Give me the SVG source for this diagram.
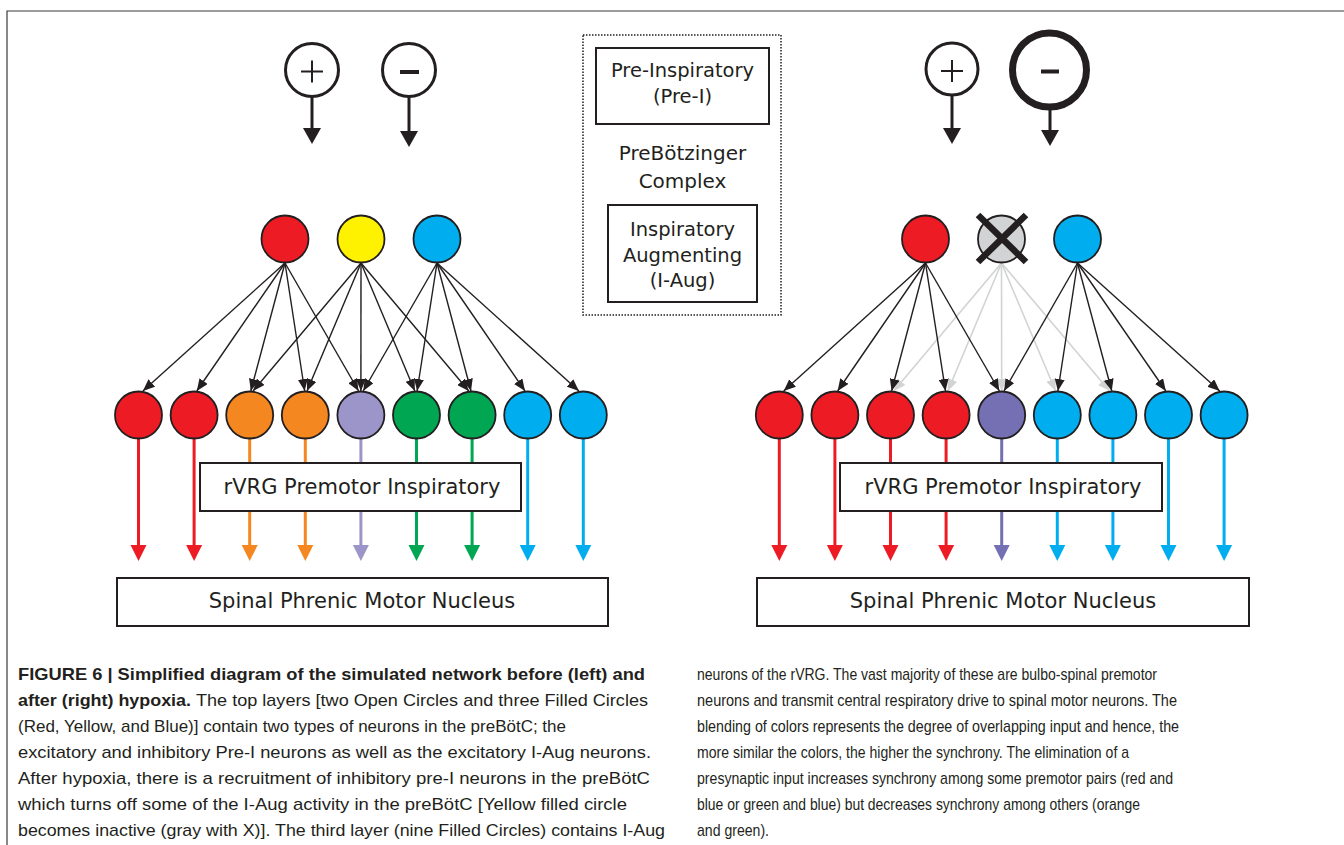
<svg xmlns="http://www.w3.org/2000/svg" width="1344" height="845" viewBox="0 0 1344 845">
<style>
  .nrn{stroke:#231f20;stroke-width:1.8}
  .red{fill:#ed1c24}.yel{fill:#fff200}.blu{fill:#00aeef}.org{fill:#f4871f}
  .pur{fill:#9b95c9}.grn{fill:#00a651}.pur2{fill:#7570b3}.gry{fill:#d1d3d4}
  .sred{stroke:#ed1c24}.sblu{stroke:#00aeef}.sorg{stroke:#f4871f}.spur{stroke:#9b95c9}.sgrn{stroke:#00a651}.spur2{stroke:#7570b3}
  .out{stroke-width:3;fill:none}
  .conn{stroke:#231f20;stroke-width:1.4;fill:none;marker-end:url(#ab)}
  .connG{stroke:#d1d3d4;stroke-width:1.6;fill:none;marker-end:url(#ag)}
  .box{fill:#fff;stroke:#231f20;stroke-width:2}
  .lbl{font-family:"DejaVu Sans",Verdana,sans-serif;fill:#231f20;text-anchor:middle}
  .cap{font-family:"Liberation Sans",Arial,sans-serif;font-size:17px;fill:#231f20}
  .b{font-weight:bold}
  .sig{fill:#fff;stroke:#231f20;stroke-width:3}
  .drv{stroke:#231f20;stroke-width:3}
</style>
<defs>
  <marker id="ab" markerWidth="12" markerHeight="10" refX="12" refY="5" orient="auto" markerUnits="userSpaceOnUse"><path d="M0,0 L12,5 L0,10 z" fill="#231f20"/></marker>
  <marker id="ag" markerWidth="12" markerHeight="10" refX="12" refY="5" orient="auto" markerUnits="userSpaceOnUse"><path d="M0,0 L12,5 L0,10 z" fill="#d1d3d4"/></marker>
  <path id="oh" d="M-8,0 L8,0 L0,16 z"/>
  <path id="dh" d="M-9,0 L9,0 L0,16 z" fill="#231f20"/>
</defs>

<!-- frame -->
<path d="M7,845 L7,11 L1344,11" fill="none" stroke="#3a3a3a" stroke-width="1.2"/>

<!-- legend box -->
<g id="legend">
  <rect x="583" y="35" width="198" height="280" fill="none" stroke="#231f20" stroke-width="1.5" stroke-dasharray="1.5 1.5"/>
  <g id="preI-box">
    <rect class="box" x="596" y="48" width="173" height="76"/>
    <text class="lbl" x="682.5" y="77" font-size="19.5">Pre-Inspiratory</text>
    <text class="lbl" x="682.5" y="103" font-size="19.5">(Pre-I)</text>
  </g>
  <text class="lbl" x="682.5" y="160" font-size="20">PreBötzinger</text>
  <text class="lbl" x="682.5" y="188" font-size="20">Complex</text>
  <g id="iaug-box">
    <rect class="box" x="608" y="205" width="149" height="97"/>
    <text class="lbl" x="682.5" y="236" font-size="19.5">Inspiratory</text>
    <text class="lbl" x="682.5" y="262" font-size="19.5">Augmenting</text>
    <text class="lbl" x="682.5" y="287" font-size="19.5">(I-Aug)</text>
  </g>
</g>

<!-- connectors -->
<g id="connectors">
  <!-- left drive arrows -->
  <line class="drv" x1="312" y1="97" x2="312" y2="130"/><use href="#dh" x="312" y="128"/>
  <line class="drv" x1="409" y1="97" x2="409" y2="132"/><use href="#dh" x="409" y="131"/>
  <!-- right drive arrows -->
  <line class="drv" x1="952" y1="96" x2="952" y2="130"/><use href="#dh" x="952" y="128"/>
  <line class="drv" x1="1050" y1="110" x2="1050" y2="132"/><use href="#dh" x="1050" y="130"/>

  <!-- left network -->
  <line class="conn" x1="285" y1="263" x2="142.9" y2="391"/>
  <line class="conn" x1="285" y1="263" x2="196.8" y2="391"/>
  <line class="conn" x1="285" y1="263" x2="250.8" y2="391"/>
  <line class="conn" x1="285" y1="263" x2="304.7" y2="391"/>
  <line class="conn" x1="285" y1="263" x2="358.6" y2="391"/>
  <line class="conn" x1="361" y1="263" x2="253.0" y2="391"/>
  <line class="conn" x1="361" y1="263" x2="307.0" y2="391"/>
  <line class="conn" x1="361" y1="263" x2="360.9" y2="391"/>
  <line class="conn" x1="361" y1="263" x2="414.8" y2="391"/>
  <line class="conn" x1="361" y1="263" x2="468.8" y2="391"/>
  <line class="conn" x1="437" y1="263" x2="363.2" y2="391"/>
  <line class="conn" x1="437" y1="263" x2="417.1" y2="391"/>
  <line class="conn" x1="437" y1="263" x2="471.0" y2="391"/>
  <line class="conn" x1="437" y1="263" x2="525.0" y2="391"/>
  <line class="conn" x1="437" y1="263" x2="578.9" y2="391"/>

  <!-- right network: inactive (gray) -->
  <line class="connG" x1="1001.5" y1="263" x2="893.8" y2="391"/>
  <line class="connG" x1="1001.5" y1="263" x2="947.8" y2="391"/>
  <line class="connG" x1="1001.5" y1="263" x2="1001.7" y2="391"/>
  <line class="connG" x1="1001.5" y1="263" x2="1055.6" y2="391"/>
  <line class="connG" x1="1001.5" y1="263" x2="1109.6" y2="391"/>
  <!-- right network: active -->
  <line class="conn" x1="925.5" y1="263" x2="783.7" y2="391"/>
  <line class="conn" x1="925.5" y1="263" x2="837.6" y2="391"/>
  <line class="conn" x1="925.5" y1="263" x2="891.6" y2="391"/>
  <line class="conn" x1="925.5" y1="263" x2="945.5" y2="391"/>
  <line class="conn" x1="925.5" y1="263" x2="999.4" y2="391"/>
  <line class="conn" x1="1077.5" y1="263" x2="1004.0" y2="391"/>
  <line class="conn" x1="1077.5" y1="263" x2="1057.9" y2="391"/>
  <line class="conn" x1="1077.5" y1="263" x2="1111.8" y2="391"/>
  <line class="conn" x1="1077.5" y1="263" x2="1165.8" y2="391"/>
  <line class="conn" x1="1077.5" y1="263" x2="1219.7" y2="391"/>

  <!-- left outputs -->
  <line class="out sred" x1="138.5" y1="439" x2="138.5" y2="547"/><use href="#oh" class="red" x="138.5" y="545"/>
  <line class="out sred" x1="194.1" y1="439" x2="194.1" y2="547"/><use href="#oh" class="red" x="194.1" y="545"/>
  <line class="out sorg" x1="249.7" y1="439" x2="249.7" y2="547"/><use href="#oh" class="org" x="249.7" y="545"/>
  <line class="out sorg" x1="305.3" y1="439" x2="305.3" y2="547"/><use href="#oh" class="org" x="305.3" y="545"/>
  <line class="out spur" x1="360.9" y1="439" x2="360.9" y2="547"/><use href="#oh" class="pur" x="360.9" y="545"/>
  <line class="out sgrn" x1="416.5" y1="439" x2="416.5" y2="547"/><use href="#oh" class="grn" x="416.5" y="545"/>
  <line class="out sgrn" x1="472.1" y1="439" x2="472.1" y2="547"/><use href="#oh" class="grn" x="472.1" y="545"/>
  <line class="out sblu" x1="527.7" y1="439" x2="527.7" y2="547"/><use href="#oh" class="blu" x="527.7" y="545"/>
  <line class="out sblu" x1="583.3" y1="439" x2="583.3" y2="547"/><use href="#oh" class="blu" x="583.3" y="545"/>
  <!-- right outputs -->
  <line class="out sred" x1="779.3" y1="439" x2="779.3" y2="547"/><use href="#oh" class="red" x="779.3" y="545"/>
  <line class="out sred" x1="834.9" y1="439" x2="834.9" y2="547"/><use href="#oh" class="red" x="834.9" y="545"/>
  <line class="out sred" x1="890.5" y1="439" x2="890.5" y2="547"/><use href="#oh" class="red" x="890.5" y="545"/>
  <line class="out sred" x1="946.1" y1="439" x2="946.1" y2="547"/><use href="#oh" class="red" x="946.1" y="545"/>
  <line class="out spur2" x1="1001.7" y1="439" x2="1001.7" y2="547"/><use href="#oh" class="pur2" x="1001.7" y="545"/>
  <line class="out sblu" x1="1057.3" y1="439" x2="1057.3" y2="547"/><use href="#oh" class="blu" x="1057.3" y="545"/>
  <line class="out sblu" x1="1112.9" y1="439" x2="1112.9" y2="547"/><use href="#oh" class="blu" x="1112.9" y="545"/>
  <line class="out sblu" x1="1168.5" y1="439" x2="1168.5" y2="547"/><use href="#oh" class="blu" x="1168.5" y="545"/>
  <line class="out sblu" x1="1224.1" y1="439" x2="1224.1" y2="547"/><use href="#oh" class="blu" x="1224.1" y="545"/>
</g>

<!-- left signal circles -->
<g id="L-plus"><circle class="sig" cx="312" cy="70" r="26.5"/><path d="M301,71.5 H323 M312,60.5 V82.5" stroke="#231f20" stroke-width="2"/></g>
<g id="L-minus"><circle class="sig" cx="409" cy="70" r="26.5"/><path d="M400,72 H419" stroke="#231f20" stroke-width="4"/></g>
<!-- right signal circles -->
<g id="R-plus"><circle class="sig" cx="952" cy="69" r="26"/><path d="M941,71 H963 M952,60 V82" stroke="#231f20" stroke-width="2"/></g>
<g id="R-minus"><circle cx="1049.5" cy="70" r="37" fill="#fff" stroke="#231f20" stroke-width="7"/><path d="M1041,71.5 H1059" stroke="#231f20" stroke-width="4"/></g>

<!-- left top layer -->
<g id="L-top-red"><circle class="nrn red" cx="285" cy="239" r="23.5"/></g>
<g id="L-top-yellow"><circle class="nrn yel" cx="361" cy="239" r="23.5"/></g>
<g id="L-top-blue"><circle class="nrn blu" cx="437" cy="239" r="23.5"/></g>
<!-- right top layer -->
<g id="R-top-red"><circle class="nrn red" cx="925.5" cy="239" r="23.5"/></g>
<g id="R-top-gray"><circle class="nrn gry" cx="1001.5" cy="239" r="23.5"/><path d="M978,215 L1026,262 M1026,215 L978,262" stroke="#231f20" stroke-width="6.5"/></g>
<g id="R-top-blue"><circle class="nrn blu" cx="1077.5" cy="239" r="23.5"/></g>

<!-- left premotor layer -->
<g id="L1"><circle class="nrn red" cx="138.5" cy="415" r="23.5"/></g>
<g id="L2"><circle class="nrn red" cx="194.1" cy="415" r="23.5"/></g>
<g id="L3"><circle class="nrn org" cx="249.7" cy="415" r="23.5"/></g>
<g id="L4"><circle class="nrn org" cx="305.3" cy="415" r="23.5"/></g>
<g id="L5"><circle class="nrn pur" cx="360.9" cy="415" r="23.5"/></g>
<g id="L6"><circle class="nrn grn" cx="416.5" cy="415" r="23.5"/></g>
<g id="L7"><circle class="nrn grn" cx="472.1" cy="415" r="23.5"/></g>
<g id="L8"><circle class="nrn blu" cx="527.7" cy="415" r="23.5"/></g>
<g id="L9"><circle class="nrn blu" cx="583.3" cy="415" r="23.5"/></g>
<!-- right premotor layer -->
<g id="R1"><circle class="nrn red" cx="779.3" cy="415" r="23.5"/></g>
<g id="R2"><circle class="nrn red" cx="834.9" cy="415" r="23.5"/></g>
<g id="R3"><circle class="nrn red" cx="890.5" cy="415" r="23.5"/></g>
<g id="R4"><circle class="nrn red" cx="946.1" cy="415" r="23.5"/></g>
<g id="R5"><circle class="nrn pur2" cx="1001.7" cy="415" r="23.5"/></g>
<g id="R6"><circle class="nrn blu" cx="1057.3" cy="415" r="23.5"/></g>
<g id="R7"><circle class="nrn blu" cx="1112.9" cy="415" r="23.5"/></g>
<g id="R8"><circle class="nrn blu" cx="1168.5" cy="415" r="23.5"/></g>
<g id="R9"><circle class="nrn blu" cx="1224.1" cy="415" r="23.5"/></g>

<!-- rVRG boxes -->
<g id="L-rvrg"><rect class="box" x="200" y="463" width="321" height="48"/><text class="lbl" x="362" y="494" font-size="21">rVRG Premotor Inspiratory</text></g>
<g id="R-rvrg"><rect class="box" x="840" y="463" width="322" height="48"/><text class="lbl" x="1003" y="494" font-size="21">rVRG Premotor Inspiratory</text></g>
<!-- spinal boxes -->
<g id="L-spinal"><rect class="box" x="117" y="578" width="491" height="48"/><text class="lbl" x="362" y="608" font-size="21">Spinal Phrenic Motor Nucleus</text></g>
<g id="R-spinal"><rect class="box" x="757" y="578" width="492" height="48"/><text class="lbl" x="1003" y="608" font-size="21">Spinal Phrenic Motor Nucleus</text></g>

<!-- caption -->
<g id="caption">
  <text class="cap b" x="18" y="680" textLength="627" lengthAdjust="spacingAndGlyphs">FIGURE 6 | Simplified diagram of the simulated network before (left) and</text>
  <text class="cap b" x="18" y="706" textLength="173" lengthAdjust="spacingAndGlyphs">after (right) hypoxia.</text>
  <text class="cap" x="196" y="706" textLength="452" lengthAdjust="spacingAndGlyphs">The top layers [two Open Circles and three Filled Circles</text>
  <text class="cap" x="18" y="732" textLength="548" lengthAdjust="spacingAndGlyphs">(Red, Yellow, and Blue)] contain two types of neurons in the preBötC; the</text>
  <text class="cap" x="18" y="758" textLength="633" lengthAdjust="spacingAndGlyphs">excitatory and inhibitory Pre-I neurons as well as the excitatory I-Aug neurons.</text>
  <text class="cap" x="18" y="784" textLength="632" lengthAdjust="spacingAndGlyphs">After hypoxia, there is a recruitment of inhibitory pre-I neurons in the preBötC</text>
  <text class="cap" x="18" y="810" textLength="609" lengthAdjust="spacingAndGlyphs">which turns off some of the I-Aug activity in the preBötC [Yellow filled circle</text>
  <text class="cap" x="18" y="836" textLength="647" lengthAdjust="spacingAndGlyphs">becomes inactive (gray with X)]. The third layer (nine Filled Circles) contains I-Aug</text>

  <text class="cap" x="697" y="680" textLength="460" lengthAdjust="spacingAndGlyphs">neurons of the rVRG. The vast majority of these are bulbo-spinal premotor</text>
  <text class="cap" x="697" y="706" textLength="480" lengthAdjust="spacingAndGlyphs">neurons and transmit central respiratory drive to spinal motor neurons. The</text>
  <text class="cap" x="697" y="732" textLength="482" lengthAdjust="spacingAndGlyphs">blending of colors represents the degree of overlapping input and hence, the</text>
  <text class="cap" x="697" y="758" textLength="432" lengthAdjust="spacingAndGlyphs">more similar the colors, the higher the synchrony. The elimination of a</text>
  <text class="cap" x="697" y="784" textLength="476" lengthAdjust="spacingAndGlyphs">presynaptic input increases synchrony among some premotor pairs (red and</text>
  <text class="cap" x="697" y="810" textLength="443" lengthAdjust="spacingAndGlyphs">blue or green and blue) but decreases synchrony among others (orange</text>
  <text class="cap" x="697" y="836" textLength="72" lengthAdjust="spacingAndGlyphs">and green).</text>
</g>
</svg>
